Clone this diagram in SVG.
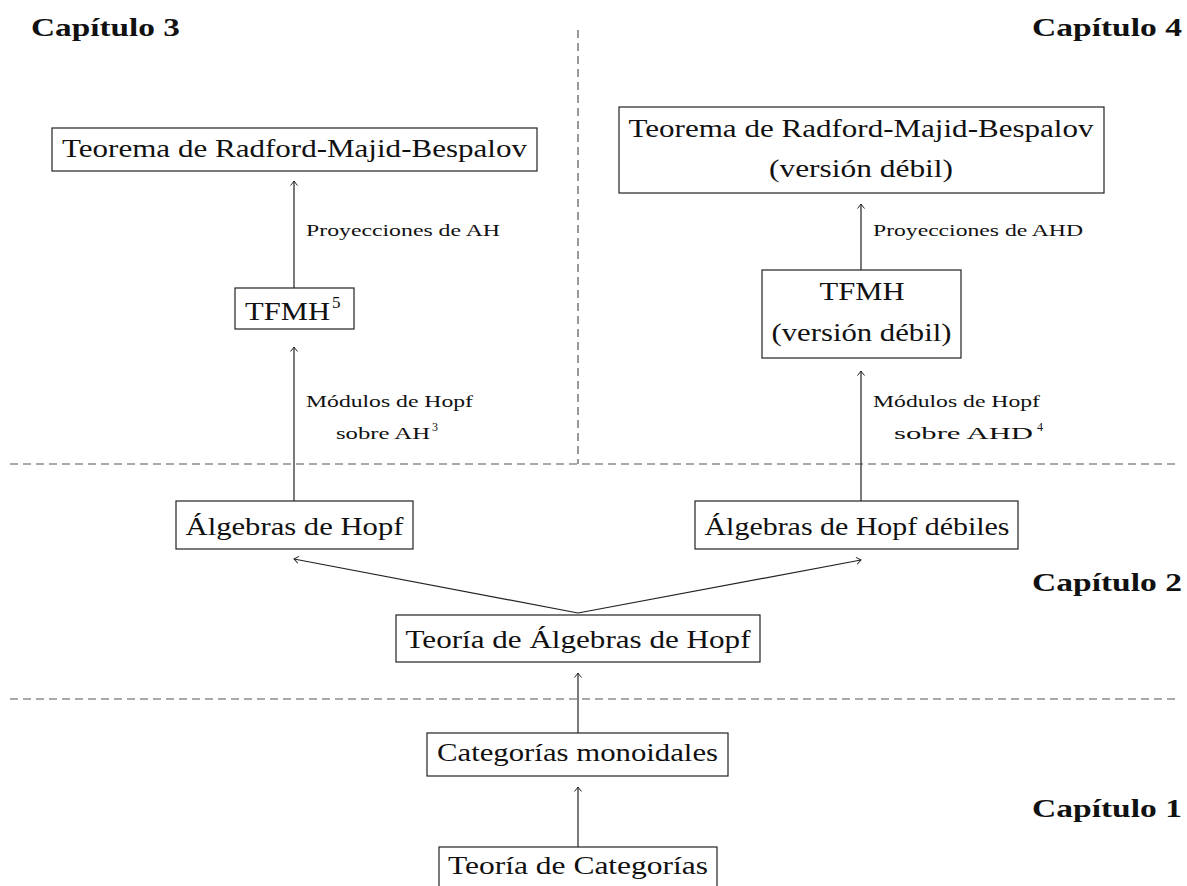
<svg xmlns="http://www.w3.org/2000/svg" width="1187" height="886" viewBox="0 0 1187 886">
<defs>
<style>
.box{fill:#fff;stroke:#222;stroke-width:1.2}
.t{font-family:"Liberation Serif","Times New Roman",serif;font-size:25px;fill:#111}
.s{font-family:"Liberation Serif","Times New Roman",serif;font-size:16px;fill:#111}
.sup{font-family:"Liberation Serif","Times New Roman",serif;font-size:17px;fill:#111}
.sups{font-family:"Liberation Serif","Times New Roman",serif;font-size:12px;fill:#111}
.ch{font-family:"Liberation Serif","Times New Roman",serif;font-size:25px;font-weight:bold;fill:#111}
.dash{fill:none;stroke:#555;stroke-width:1.2;stroke-dasharray:8,5}
.arr{fill:none;stroke:#222;stroke-width:1.2;marker-end:url(#ah)}
</style>
<marker id="ah" viewBox="-6 -5 8 10" refX="0" refY="0" markerWidth="8" markerHeight="10" markerUnits="userSpaceOnUse" orient="auto">
<path d="M -4.5 -3.5 Q -1.5 -1 0 0 Q -1.5 1 -4.5 3.5" fill="none" stroke="#222" stroke-width="1"/>
</marker>
</defs>

<g id="chapters">
<text class="ch" x="31" y="36" textLength="149" lengthAdjust="spacingAndGlyphs">Capítulo 3</text>
<text class="ch" x="1032" y="36" textLength="150" lengthAdjust="spacingAndGlyphs">Capítulo 4</text>
<text class="ch" x="1032" y="591" textLength="150" lengthAdjust="spacingAndGlyphs">Capítulo 2</text>
<text class="ch" x="1032" y="817" textLength="150" lengthAdjust="spacingAndGlyphs">Capítulo 1</text>
</g>

<g id="separators">
<path class="dash" d="M578 30 V464"/>
<path class="dash" d="M10 464 H1177"/>
<path class="dash" d="M10 699 H1177"/>
</g>

<g id="connectors">
<path class="arr" d="M294 288 V181"/>
<path class="arr" d="M294 501 V347"/>
<path class="arr" d="M861 270 V204"/>
<path class="arr" d="M861 501 V371"/>
<path class="arr" d="M578 613 L294 559"/>
<path class="arr" d="M578 613 L861 560"/>
<path class="arr" d="M578 733 V673"/>
<path class="arr" d="M578 847 V787"/>
<text class="s" x="306" y="236" textLength="194" lengthAdjust="spacingAndGlyphs">Proyecciones de AH</text>
<text class="s" x="306" y="407" textLength="167" lengthAdjust="spacingAndGlyphs">Módulos de Hopf</text>
<text class="s" x="336" y="439" textLength="94" lengthAdjust="spacingAndGlyphs">sobre AH</text>
<text class="sups" x="432" y="431">3</text>
<text class="s" x="873" y="236" textLength="210" lengthAdjust="spacingAndGlyphs">Proyecciones de AHD</text>
<text class="s" x="873" y="407" textLength="167" lengthAdjust="spacingAndGlyphs">Módulos de Hopf</text>
<text class="s" x="894" y="439" textLength="139" lengthAdjust="spacingAndGlyphs">sobre AHD</text>
<text class="sups" x="1037" y="431">4</text>
</g>

<g id="n-rmb">
<rect class="box" x="52" y="128" width="485" height="43"/>
<text class="t" x="294.5" y="157" text-anchor="middle" textLength="465" lengthAdjust="spacingAndGlyphs">Teorema de Radford-Majid-Bespalov</text>
</g>

<g id="n-tfmh">
<rect class="box" x="235" y="288" width="119" height="41"/>
<text class="t" x="245" y="320" textLength="85" lengthAdjust="spacingAndGlyphs">TFMH</text>
<text class="sup" x="332" y="308">5</text>
</g>

<g id="n-ah">
<rect class="box" x="176" y="501" width="237" height="48"/>
<text class="t" x="294.5" y="535" text-anchor="middle" textLength="218" lengthAdjust="spacingAndGlyphs">Álgebras de Hopf</text>
</g>

<g id="n-rmb-weak">
<rect class="box" x="619" y="107" width="485" height="86"/>
<text class="t" x="861" y="137" text-anchor="middle" textLength="465" lengthAdjust="spacingAndGlyphs">Teorema de Radford-Majid-Bespalov</text>
<text class="t" x="861" y="177" text-anchor="middle" textLength="184" lengthAdjust="spacingAndGlyphs">(versión débil)</text>
</g>

<g id="n-tfmh-weak">
<rect class="box" x="762" y="270" width="199" height="88"/>
<text class="t" x="862" y="300" text-anchor="middle" textLength="85" lengthAdjust="spacingAndGlyphs">TFMH</text>
<text class="t" x="861.5" y="341" text-anchor="middle" textLength="180" lengthAdjust="spacingAndGlyphs">(versión débil)</text>
</g>

<g id="n-ahd">
<rect class="box" x="695" y="501" width="323" height="48"/>
<text class="t" x="857" y="535" text-anchor="middle" textLength="305" lengthAdjust="spacingAndGlyphs">Álgebras de Hopf débiles</text>
</g>

<g id="n-tah">
<rect class="box" x="396" y="615" width="364" height="47"/>
<text class="t" x="578" y="648" text-anchor="middle" textLength="345" lengthAdjust="spacingAndGlyphs">Teoría de Álgebras de Hopf</text>
</g>

<g id="n-cm">
<rect class="box" x="427" y="733" width="301" height="43"/>
<text class="t" x="577.5" y="761" text-anchor="middle" textLength="281" lengthAdjust="spacingAndGlyphs">Categorías monoidales</text>
</g>

<g id="n-tc">
<rect class="box" x="439" y="847" width="278" height="50"/>
<text class="t" x="578" y="874" text-anchor="middle" textLength="260" lengthAdjust="spacingAndGlyphs">Teoría de Categorías</text>
</g>
</svg>
